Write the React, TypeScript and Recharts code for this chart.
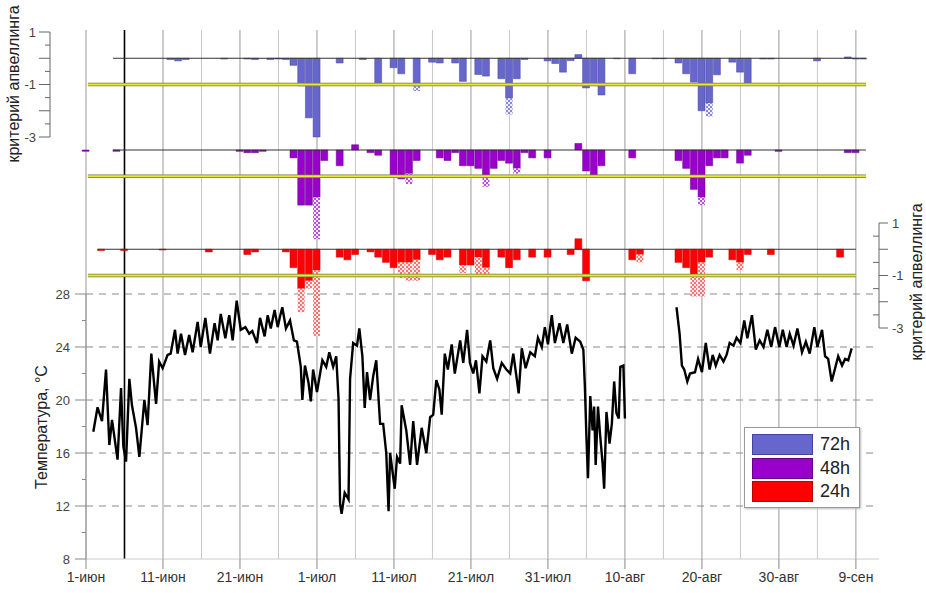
import React from 'react';
import { ComposedChart, Bar, Line, XAxis, YAxis, ReferenceLine, Legend } from 'recharts';

const W = 926;
const H = 593;
const FONT = '"Liberation Sans", Arial, sans-serif';

// ---------- x axis (days since 1 June) ----------
const dateTicks = [0, 10, 20, 30, 40, 50, 60, 70, 80, 90, 100];
const dateLabels = ['1-июн', '11-июн', '21-июн', '1-июл', '11-июл', '21-июл', '31-июл', '10-авг', '20-авг', '30-авг', '9-сен'];
const gridDays = [0, 5, 10, 15, 20, 25, 30, 35, 40, 45, 50, 55, 60, 65, 70, 75, 80, 85, 90, 95, 100];

// ---------- temperature ----------
const tempDay = [
  0.95, 1.5, 2.08, 2.6, 3.03, 3.38, 4.1, 4.55, 4.85, 5.2, 5.63, 5.97, 6.5, 6.93, 7.58, 8.0, 8.48, 9.1, 9.5, 9.96,
  10.6, 11.0, 11.56, 11.9, 12.34, 12.86, 13.4, 13.85, 14.5, 14.9, 15.5, 16.1, 16.7, 17.1, 17.5, 18.1, 18.6, 19.05, 19.57, 20.1,
  20.7, 21.2, 21.6, 22.2, 22.6, 23.2, 23.6, 24.0, 24.5, 24.9, 25.2, 25.5, 25.97, 26.5, 27.0, 27.4, 27.9, 28.1, 28.44, 28.9,
  29.2, 29.5, 30.0, 30.7, 31.2, 31.6, 32.1, 32.5, 32.8, 33.0, 33.2, 33.6, 34.1, 34.3, 34.7, 35.2, 35.5, 35.9, 36.2, 36.5,
  36.9, 37.3, 37.7, 38.2, 38.6, 39.0, 39.3, 39.5, 40.1, 40.4, 40.8, 41.0, 41.6, 42.1, 42.5, 43.0, 43.6, 44.2, 44.7, 45.1,
  45.5, 45.9, 46.2, 46.6, 47.0, 47.5, 47.9, 48.6, 49.0, 49.5, 49.87, 50.3, 50.65, 51.1, 51.5, 52.0, 52.5, 52.9, 53.4, 54.0,
  54.6, 55.1, 55.5, 55.9, 56.2, 56.6, 57.1, 57.7, 58.3, 58.7, 59.2, 59.6, 60.0, 60.5, 60.9, 61.5, 62.0, 62.5, 63.1, 63.6,
  64.2, 64.6, 64.8, 65.0, 65.2, 65.5, 65.8, 66.0, 66.2, 66.5, 66.8, 67.1, 67.3, 67.6, 68.0, 68.3, 68.6, 68.9, 69.2, 69.4,
  69.8, 70.0, 73.0,
  76.7, 77.1, 77.4, 77.7, 78.1, 78.45, 79.1, 79.5, 80.0, 80.5, 81.0, 81.4, 81.8, 82.3, 82.8, 83.2, 83.6, 84.1, 84.5, 85.0,
  85.5, 85.9, 86.5, 87.0, 87.5, 88.0, 88.5, 89.0, 89.5, 90.05, 90.5, 91.0, 91.4, 91.9, 92.4, 93.0, 93.5, 94.0, 94.6, 95.0,
  95.6, 96.0, 96.4, 96.85, 97.3, 97.7, 98.2, 98.6, 99.0, 99.45,
];
const tempC: (number | null)[] = [
  17.6, 19.45, 18.4, 22.3, 16.6, 18.5, 15.5, 20.9, 16.5, 15.35, 21.6, 19.6, 17.9, 15.7, 20.0, 18.1, 23.5, 19.7, 22.9, 22.4,
  23.4, 23.5, 25.3, 23.5, 25.0, 23.4, 24.9, 23.6, 25.9, 24.0, 26.2, 23.5, 25.8, 24.5, 26.5, 24.65, 26.4, 24.5, 27.5, 25.3,
  25.5, 25.0, 25.2, 24.3, 26.2, 24.8, 26.4, 25.4, 26.8, 25.5, 26.3, 27.0, 25.4, 26.0, 24.5, 24.4, 22.5, 20.0, 22.6, 21.3,
  19.9, 22.3, 20.6, 23.0, 22.5, 23.6, 22.5, 23.3, 20.1, 12.2, 11.4, 13.0, 12.5, 21.6, 24.3, 24.1, 25.4, 23.3, 19.4, 22.1,
  20.0, 21.8, 23.0, 18.2, 18.2, 16.0, 11.6, 16.0, 13.3, 15.7, 15.2, 19.6, 17.7, 15.1, 18.4, 15.1, 17.9, 16.0, 18.7, 18.9,
  21.5, 20.8, 18.9, 23.5, 22.3, 24.2, 22.0, 24.5, 22.8, 25.3, 22.8, 22.0, 23.0, 20.5, 23.3, 22.9, 24.5, 22.4, 21.6, 22.8,
  22.3, 22.0, 23.5, 21.8, 20.5, 23.9, 22.4, 23.6, 23.3, 24.7, 24.0, 25.5, 24.2, 26.4, 24.3, 25.8, 24.3, 25.7, 23.5, 24.7,
  24.4, 23.8, 21.0, 17.2, 14.1, 20.3, 17.7, 19.5, 15.1, 19.5, 17.2, 15.2, 13.3, 19.1, 16.7, 18.2, 21.4, 19.0, 18.6, 22.5,
  22.6, 18.6, null,
  27.0, 25.0, 22.6, 22.3, 21.4, 22.0, 22.1, 23.1, 22.1, 24.3, 22.3, 23.4, 22.6, 23.4, 22.9, 23.4, 24.3, 24.1, 24.7, 24.3,
  26.0, 24.65, 26.4, 23.8, 24.5, 24.0, 25.3, 24.0, 25.5, 24.0, 25.3, 24.0, 25.0, 24.1, 25.4, 23.6, 24.4, 23.5, 25.5, 24.0,
  25.3, 23.3, 23.1, 21.4, 22.4, 23.3, 22.6, 23.1, 23.0, 23.9,
];
const tempTicks = [8, 10, 12, 14, 16, 18, 20, 22, 24, 26, 28];
const tempDashed = [12, 16, 20, 24, 28];

// ---------- upwelling criterion, one value per day (day 0 = 1 June) ----------
const crit72 = [
  0, 0, 0, 0, 0, 0, 0, 0, 0, 0,
  0, -0.05, -0.1, -0.05, 0, 0, 0, 0, -0.03, 0,
  0, -0.03, -0.05, 0, -0.05, -0.03, -0.05, -0.27, -1.05, -2.27,
  -3.0, 0, 0, -0.18, 0, 0, -0.05, 0, -1.03, 0,
  -0.36, -0.59, 0, -1.07, 0, -0.15, -0.18, 0, -0.18, -0.88,
  0, -0.62, -0.68, 0, -0.78, -1.52, -0.78, -0.05, 0, 0,
  -0.1, -0.2, -0.53, -0.09, 0.14, -1.13, -1.04, -1.4, 0, -0.02,
  0, -0.59, 0, 0, -0.02, -0.02, 0, -0.18, -0.59, -0.91,
  -2.0, -1.71, -0.63, 0, -0.15, -0.53, -0.97, 0, -0.03, -0.03,
  0, 0, 0, 0, 0, -0.1, 0, 0, 0, 0.05, -0.03, -0.03,
];
const crit72Ext = [[43, -1.25], [55, -2.14], [81, -2.22]];

const crit48 = [
  -0.05, 0, 0, 0, -0.05, 0, 0, 0, 0, 0,
  0, 0, 0, 0, 0, 0, 0, 0, 0, 0,
  -0.05, -0.1, -0.1, -0.05, 0, 0, 0, -0.3, -2.1, -2.1,
  -1.8, -0.4, 0, -0.6, 0, 0.2, 0, -0.1, -0.2, 0,
  -1.0, -1.1, -0.9, -0.4, 0, 0, -0.3, -0.4, -0.1, -0.6,
  -0.6, -0.7, -1.0, -0.7, -0.4, -0.5, -0.7, -0.1, -0.3, 0,
  -0.3, 0, 0, 0, 0.25, -0.8, -1.0, -0.6, 0, 0,
  0, -0.3, 0, 0, 0, 0, 0, -0.4, -0.7, -1.5,
  -1.8, -0.6, -0.3, -0.3, 0, -0.5, -0.2, 0, 0, 0,
  -0.05, 0, 0, 0, 0, 0, 0, 0, 0, -0.1, -0.1, 0,
];
const crit48Ext = [[30, -3.4], [42, -1.3], [52, -1.4], [56, -0.9], [80, -2.1]];

const crit24 = [
  0, 0, -0.05, 0, 0, -0.05, 0, 0, 0, 0,
  -0.03, 0, 0, 0, 0, 0, -0.1, 0, 0, 0,
  0, -0.2, -0.1, 0, 0, 0, -0.1, -0.7, -1.5, -1.2,
  -0.8, 0, 0, -0.3, -0.4, -0.2, 0, -0.1, -0.3, -0.5,
  -0.7, -0.5, -0.5, -0.4, 0, -0.2, -0.4, -0.3, 0, -0.6,
  -0.6, -0.3, -0.7, 0, -0.3, -0.7, -0.4, 0, -0.3, 0,
  -0.3, 0, 0, -0.2, 0.4, -1.2, 0, 0, 0, 0,
  0, -0.4, -0.2, 0, 0, 0, 0, -0.5, -0.7, -1.0,
  -0.5, -0.3, 0, 0, -0.4, -0.5, -0.2, 0, 0, -0.2,
  0, 0, 0, 0, 0, 0, 0, 0, -0.3, 0, 0, 0,
];
const crit24Ext = [[28, -2.4], [29, -1.5], [30, -3.3], [41, -1.1], [42, -1.2], [43, -1.2], [49, -0.9], [51, -1.0], [52, -1.0], [72, -0.5], [79, -1.8], [80, -1.8], [85, -0.8]];

const critTicks = [1, 0.5, 0, -0.5, -1, -1.5, -2, -2.5, -3];
const critLabeled = [1, -1, -3];

const legendItems = [
  { label: '72h', color: '#6666cc', stroke: '#4444a0' },
  { label: '48h', color: '#9900cc', stroke: '#660088' },
  { label: '24h', color: '#ff0000', stroke: '#c00000' },
];

// ---------- builders ----------
const tempData = tempDay.map((d, i) => ({ d, t: tempC[i] }));
const buildBars = (solid: number[], ext: number[][]) =>
  solid.map((s, d) => {
    const e = ext.find((p) => p[0] === d);
    return { d, s, h: e ? e[1] - s : 0 };
  });
const bars72 = buildBars(crit72, crit72Ext);
const bars48 = buildBars(crit48, crit48Ext);
const bars24 = buildBars(crit24, crit24Ext);
const gridData = gridDays.map((d) => ({ d, v: 0.5 }));

const abs: React.CSSProperties = { position: 'absolute', left: 0, top: 0 };

const TempTick = (p: any) => {
  const { x, y, payload } = p;
  const v = payload.value;
  const major = v % 4 === 0;
  return (
    <g>
      <line x1={x - (major ? 11 : 4)} x2={x} y1={y} y2={y} stroke="#888" />
      {major && (
        <text x={x - 16} y={y} dy={4.5} textAnchor="end" fontSize={13} fill="#444" fontFamily={FONT}>
          {v}
        </text>
      )}
    </g>
  );
};

const LeftCritTick = (p: any) => {
  const { x, y, payload } = p;
  const v = payload.value;
  const major = Number.isInteger(v);
  return (
    <g>
      <line x1={x - (major ? 11 : 5)} x2={x} y1={y} y2={y} stroke="#666" />
      {critLabeled.includes(v) && (
        <text x={x - 14} y={y} dy={4.5} textAnchor="end" fontSize={13} fill="#444" fontFamily={FONT}>
          {v}
        </text>
      )}
    </g>
  );
};

const RightCritTick = (p: any) => {
  const { x, y, payload } = p;
  const v = payload.value;
  const major = Number.isInteger(v);
  return (
    <g>
      {major ? <line x1={x} x2={x + 9} y1={y} y2={y} stroke="#666" /> : <line x1={x - 6} x2={x} y1={y} y2={y} stroke="#666" />}
      {critLabeled.includes(v) && (
        <text x={x + 13} y={y} dy={4.5} textAnchor="start" fontSize={13} fill="#444" fontFamily={FONT}>
          {v}
        </text>
      )}
    </g>
  );
};

const renderLegend = () => (
  <div
    style={{
      width: 116,
      height: 81,
      border: '1px solid #999',
      background: '#fff',
      boxSizing: 'border-box',
      padding: '5px 0 0 7px',
      fontFamily: FONT,
      boxShadow: '1px 1px 2px #bbb',
    }}
  >
    {legendItems.map((it) => (
      <div key={it.label} style={{ display: 'flex', alignItems: 'center', height: 23.5 }}>
        <div style={{ width: 61, height: 21, background: it.color, border: `1px solid ${it.stroke}`, boxSizing: 'border-box' }} />
        <span style={{ marginLeft: 7, fontSize: 18, color: '#222', lineHeight: '21px' }}>{it.label}</span>
      </div>
    ))}
  </div>
);

const yellowLines = (x1: number, x2: number) => [
  <ReferenceLine key="yk" segment={[{ x: x1, y: -1 }, { x: x2, y: -1 }]} stroke="#77773a" strokeWidth={3.6} />,
  <ReferenceLine key="yy" segment={[{ x: x1, y: -1 }, { x: x2, y: -1 }]} stroke="#e8e830" strokeWidth={1.8} />,
];

export default function App() {
  return (
    <div style={{ position: 'absolute', left: 0, top: 0, width: W, height: H, background: '#fff' }}>
      <svg width={W} height={H} style={{ ...abs, pointerEvents: 'none' }}>
        <defs>
          <pattern id="hatch72" width="4" height="4" patternUnits="userSpaceOnUse">
            <rect width="4" height="4" fill="#eeeefa" />
            <rect width="2" height="2" fill="#8888dd" />
            <rect x="2" y="2" width="2" height="2" fill="#8888dd" />
          </pattern>
          <pattern id="hatch48" width="4" height="4" patternUnits="userSpaceOnUse">
            <rect width="4" height="4" fill="#f6e6fb" />
            <rect width="2" height="2" fill="#b450e0" />
            <rect x="2" y="2" width="2" height="2" fill="#b450e0" />
          </pattern>
          <pattern id="hatch24" width="4" height="4" patternUnits="userSpaceOnUse">
            <rect width="4" height="4" fill="#ffe8e8" />
            <rect width="2" height="2" fill="#ff7070" />
            <rect x="2" y="2" width="2" height="2" fill="#ff7070" />
          </pattern>
        </defs>
        <text transform="translate(13,84) rotate(-90)" textAnchor="middle" dominantBaseline="central" fontSize={16} fill="#222" fontFamily={FONT}>
          критерий апвеллинга
        </text>
        <text transform="translate(916,282) rotate(-90)" textAnchor="middle" dominantBaseline="central" fontSize={16} fill="#222" fontFamily={FONT}>
          критерий апвеллинга
        </text>
        <text transform="translate(41,427) rotate(-90)" textAnchor="middle" dominantBaseline="central" fontSize={16} fill="#222" fontFamily={FONT}>
          Температура, °С
        </text>
      </svg>

      {/* vertical grid */}
      <div style={abs}>
        <ComposedChart width={W} height={H} data={gridData} margin={{ top: 30, right: 47, bottom: 34, left: 86 }}>
          <XAxis type="number" dataKey="d" domain={[0, 103]} hide />
          <YAxis domain={[0, 1]} hide />
          {gridDays.map((d) => (
            <ReferenceLine
              key={d}
              x={d}
              stroke={d === 5 ? '#000' : d % 10 === 0 ? '#999' : '#c8c8c8'}
              strokeWidth={d === 5 ? 1.6 : 1}
            />
          ))}
          <Line dataKey="v" stroke="none" dot={false} isAnimationActive={false} />
        </ComposedChart>
      </div>

      {/* temperature */}
      <div style={abs}>
        <ComposedChart width={W} height={H} data={tempData} margin={{ top: 294, right: 47, bottom: 4, left: 56 }}>
          <XAxis
            type="number"
            dataKey="d"
            domain={[0, 103]}
            ticks={dateTicks}
            interval={0}
            tickFormatter={(v: number) => dateLabels[dateTicks.indexOf(v)]}
            tick={{ fontSize: 14, fill: '#333', fontFamily: FONT }}
            tickSize={10}
            tickMargin={3}
            height={30}
            stroke="#bbb"
            tickLine={{ stroke: '#888' }}
            axisLine={{ stroke: '#ccc' }}
          />
          <YAxis
            domain={[8, 28]}
            ticks={tempTicks}
            interval={0}
            width={30}
            tickSize={0}
            tickMargin={0}
            tickLine={false}
            axisLine={{ stroke: '#999' }}
            tick={<TempTick />}
          />
          {tempDashed.map((v) => (
            <ReferenceLine key={v} y={v} stroke="#8a8a8a" strokeDasharray="7 6" />
          ))}
          <Line type="linear" dataKey="t" stroke="#000" strokeWidth={2.4} dot={false} connectNulls={false} isAnimationActive={false} />
          <Legend layout="vertical" align="center" verticalAlign="middle" content={renderLegend} wrapperStyle={{ left: 744, top: 427, width: 116, height: 81 }} />
        </ComposedChart>
      </div>

      {/* 72h */}
      <div style={abs}>
        <ComposedChart width={W} height={H} data={bars72} margin={{ top: 32, right: 47, bottom: 456, left: 0 }} barSize={7.7}>
          <XAxis type="number" dataKey="d" domain={[-36 / 7.7, 103]} hide />
          <YAxis
            domain={[-3, 1]}
            ticks={critTicks}
            interval={0}
            width={50}
            tickSize={0}
            tickMargin={0}
            tickLine={false}
            axisLine={{ stroke: '#666' }}
            tick={<LeftCritTick />}
          />
          <ReferenceLine segment={[{ x: 3.5, y: 0 }, { x: 101.3, y: 0 }]} stroke="#333" />
          <Bar dataKey="s" stackId="a" fill="#6666cc" stroke="#4444a0" strokeWidth={0.5} isAnimationActive={false} />
          <Bar dataKey="h" stackId="a" fill="url(#hatch72)" isAnimationActive={false} />
          {yellowLines(0.25, 101.3)}
        </ComposedChart>
      </div>

      {/* 48h */}
      <div style={abs}>
        <ComposedChart width={W} height={H} data={bars48} margin={{ top: 123.75, right: 47, bottom: 338, left: 86 }} barSize={7.7}>
          <XAxis type="number" dataKey="d" domain={[0, 103]} hide />
          <YAxis domain={[-4, 1]} hide />
          <ReferenceLine segment={[{ x: 3.5, y: 0 }, { x: 101.3, y: 0 }]} stroke="#333" />
          <Bar dataKey="s" stackId="a" fill="#9900cc" stroke="#660088" strokeWidth={0.5} isAnimationActive={false} />
          <Bar dataKey="h" stackId="a" fill="url(#hatch48)" isAnimationActive={false} />
          {yellowLines(0.25, 101.3)}
        </ComposedChart>
      </div>

      {/* 24h */}
      <div style={abs}>
        <ComposedChart width={W} height={H} data={bars24} margin={{ top: 223, right: 1, bottom: 251.875, left: 86 }} barSize={7.7}>
          <XAxis type="number" dataKey="d" domain={[0, 103]} hide />
          <YAxis
            orientation="right"
            domain={[-3.5, 1]}
            ticks={critTicks}
            interval={0}
            width={46}
            tickSize={0}
            tickMargin={0}
            tickLine={false}
            axisLine={false}
            tick={<RightCritTick />}
          />
          <ReferenceLine segment={[{ x: 103, y: 1 }, { x: 103, y: -3 }]} stroke="#666" />
          <ReferenceLine segment={[{ x: 1.5, y: 0 }, { x: 100, y: 0 }]} stroke="#333" />
          <Bar dataKey="s" stackId="a" fill="#ff0000" stroke="#c00000" strokeWidth={0.5} isAnimationActive={false} />
          <Bar dataKey="h" stackId="a" fill="url(#hatch24)" isAnimationActive={false} />
          {yellowLines(0.25, 100)}
        </ComposedChart>
      </div>
    </div>
  );
}
